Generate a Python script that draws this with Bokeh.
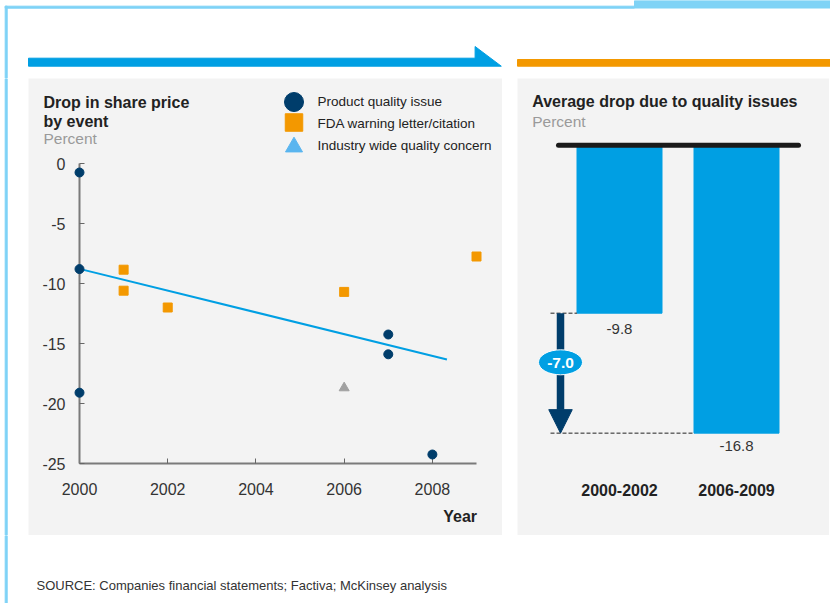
from bokeh.plotting import figure
from bokeh.layouts import column, row
from bokeh.models import Range1d, FixedTicker, Arrow, NormalHead, Spacer
from bokeh.core.properties import value
from bokeh.embed import file_html
from bokeh.resources import INLINE

# ---------------- data ----------------
pq_year = [2000, 2000, 2000, 2007, 2007, 2008]
pq_drop = [-0.75, -8.8, -19.1, -14.25, -15.9, -24.25]
fda_year = [2001, 2001, 2002, 2006, 2009]
fda_drop = [-8.85, -10.6, -12.0, -10.7, -7.75]
ind_year = [2006]
ind_drop = [-18.7]
trend_year = [2000, 2008.33]
trend_drop = [-8.78, -16.33]
x_ticks = [2000, 2002, 2004, 2006, 2008]
y_ticks = [0, -5, -10, -15, -20, -25]
legend_labels = ["Product quality issue", "FDA warning letter/citation",
                 "Industry wide quality concern"]
periods = ["2000-2002", "2006-2009"]
avg_drop = [-9.8, -16.8]

# ---------------- style ----------------
FONT = "Liberation Sans"
BLUE = "#009fe3"
ORANGE = "#f39800"
NAVY = "#003d6b"
LIGHTBLUE = "#7fd3f6"
PANEL = "#f3f3f3"
GRAYTRI = "#a0a0a0"
LEGTRI = "#5ab5ef"
TXT = "#222222"
SUB = "#9a9a9a"
W = 830


def base(width, height, xr, yr, bg="white"):
    p = figure(width=width, height=height, x_range=xr, y_range=yr,
               output_backend="svg", toolbar_location=None, min_border=0,
               x_axis_location=None, y_axis_location=None)
    p.grid.visible = False
    p.outline_line_color = None
    p.background_fill_color = bg
    p.border_fill_color = bg
    return p


def txt(p, x, y, s, size="16px", bold=False, color=TXT, align="left"):
    return p.text(x=[x], y=[y], text=[s], text_font=value(FONT), text_font_size=size,
                  text_font_style="bold" if bold else "normal", text_color=color,
                  text_align=align, text_baseline="middle")


# ---------------- top strip (pixel coordinates) ----------------
top = base(W, 78, Range1d(0, W), Range1d(78, 0))
top.patch([28, 474.6, 474.6, 500.8, 28], [57.7, 57.7, 46, 65.7, 65.7], color=BLUE)
top.quad(left=517, right=830, top=59, bottom=65.7, color=ORANGE)
top.quad(left=4.7, right=634, top=5.7, bottom=7.7, color=LIGHTBLUE)
top.quad(left=634, right=W, top=0, bottom=7.5, color=LIGHTBLUE)
top.quad(left=4.7, right=6.7, top=5.7, bottom=78, color=LIGHTBLUE)

# ---------------- left border strip ----------------
strip = base(28, 457, Range1d(0, 28), Range1d(535, 78))
strip.quad(left=4.7, right=6.7, top=78, bottom=535, color=LIGHTBLUE)

# ---------------- left panel: scatter ----------------
LX, LY = 28, 78
KX = 397 / 9.0          # px per year
KY = 12.0               # px per percent
x0 = 2000 - (79 - LX) / KX
y1 = (163 - LY) / KY


def lxp(px):
    return x0 + (px - LX) / KX


def lyp(py):
    return y1 - (py - LY) / KY


lp = figure(width=474, height=457, x_range=Range1d(x0, x0 + 474 / KX),
            y_range=Range1d(y1 - 457 / KY, y1), output_backend="svg",
            toolbar_location=None, min_border=0)
lp.grid.visible = False
lp.outline_line_color = None
lp.background_fill_color = PANEL
lp.border_fill_color = PANEL

lp.xaxis.fixed_location = -25
lp.xaxis.bounds = (2000, 2009)
lp.xaxis.ticker = FixedTicker(ticks=x_ticks)
lp.yaxis.fixed_location = 2000
lp.yaxis.bounds = (-25, 0)
lp.yaxis.ticker = FixedTicker(ticks=y_ticks)
lp.yaxis.major_label_overrides = {t: str(t) for t in y_ticks}
for ax in (lp.xaxis, lp.yaxis):
    ax.axis_line_color = "#7a7a7a"
    ax.axis_line_width = 2
    ax.major_tick_line_color = "#666666"
    ax.major_tick_in = 5
    ax.major_tick_out = 0
    ax.minor_tick_line_color = None
    ax.major_label_text_font = FONT
    ax.major_label_text_font_size = "16px"
    ax.major_label_text_color = "#333333"
lp.xaxis.major_label_standoff = 19
lp.yaxis.major_label_standoff = 14

lp.line(trend_year, trend_drop, line_color=BLUE, line_width=2)
r1 = lp.scatter(fda_year, fda_drop, marker="square", size=9, color=ORANGE)
r2 = lp.scatter(ind_year, ind_drop, marker="triangle", size=10, color=GRAYTRI)
r3 = lp.scatter(pq_year, pq_drop, marker="circle", size=9, color=NAVY)
for r in (r1, r2, r3):
    r.level = "overlay"

txt(lp, lxp(43), lyp(102), "Drop in share price", bold=True)
txt(lp, lxp(43), lyp(120.5), "by event", bold=True)
txt(lp, lxp(43), lyp(137.5), "Percent", size="15.5px", color=SUB)

# legend
lp.scatter([lxp(293.5)], [lyp(101.5)], marker="circle", size=19, color=NAVY)
lp.scatter([lxp(293.5)], [lyp(122)], marker="square", size=17.5, color=ORANGE)
lp.scatter([lxp(293.5)], [lyp(146.5)], marker="triangle", size=17, color=LEGTRI)
for lab, py in zip(legend_labels, [101.3, 123, 144.5]):
    txt(lp, lxp(317), lyp(py), lab, size="13.5px")

txt(lp, lxp(476.5), lyp(515.5), "Year", bold=True, align="right")

# ---------------- right panel: bars ----------------
KR = 17.14          # px per percent
ZERO_PY = 144.7     # pixel y of 0 %
SP = 117.0          # px between bar centres
C0 = 619.0          # pixel x of first bar centre


def rxp(px):
    return 0.5 + (px - C0) / SP


def ryp(py):
    return (ZERO_PY - py) / KR


rp = base(312, 457, Range1d(rxp(517), rxp(829)), Range1d(ryp(535), ryp(78)), bg=PANEL)
bar_x = [i + 0.5 for i in range(len(periods))]
bw = 85 / SP
rp.vbar(x=bar_x, top=0, bottom=avg_drop, width=bw, color=BLUE)
rp.segment(x0=[rxp(558)], x1=[rxp(798)], y0=[0], y1=[0], line_width=5,
           line_color="#1a1a1a", line_cap="round")
rp.segment(x0=[rxp(550)] * 2, x1=[bx - bw / 2 for bx in bar_x], y0=avg_drop, y1=avg_drop,
           line_color="#222222", line_width=1, line_dash="4 2")
ax_x = rxp(560)
rp.add_layout(Arrow(x_start=ax_x, y_start=avg_drop[0], x_end=ax_x, y_end=avg_drop[1],
                    line_width=7.5, line_color=NAVY,
                    end=NormalHead(size=23.5, fill_color=NAVY, line_color=NAVY, line_width=1)))
el = rp.ellipse(x=[ax_x], y=[ryp(361.8)], width=44, height=25, width_units="screen",
                height_units="screen", fill_color=BLUE, line_color="white", line_width=1)
diff = avg_drop[1] - avg_drop[0]
dt = txt(rp, ax_x, ryp(362), f"{diff:.1f}", size="15.5px", bold=True, color="white", align="center")
el.level = "overlay"
dt.level = "overlay"

rp.text(x=bar_x, y=avg_drop, text=[f"{v:.1f}" for v in avg_drop], y_offset=[16, 13],
        text_font=value(FONT), text_font_size="15px", text_color="#333333",
        text_align="center", text_baseline="middle")
rp.text(x=bar_x, y=[ryp(489)] * len(periods), text=periods,
        text_font=value(FONT), text_font_size="16px", text_font_style="bold",
        text_color=TXT, text_align="center", text_baseline="middle")

txt(rp, rxp(531.7), ryp(101), "Average drop due to quality issues", bold=True)
txt(rp, rxp(531.7), ryp(121), "Percent", size="15.5px", color=SUB)

# ---------------- bottom strip ----------------
bot = base(W, 68, Range1d(0, W), Range1d(603, 535))
bot.quad(left=4.7, right=6.7, top=535, bottom=603, color=LIGHTBLUE)
txt(bot, 36, 585, "SOURCE: Companies financial statements; Factiva; McKinsey analysis",
    size="13px", color="#333333")

mid = row(strip, lp, Spacer(width=15, height=457), rp, Spacer(width=1, height=457), spacing=0)
layout = column(top, mid, bot, spacing=0)

open("out.html", "w").write(file_html(layout, INLINE))
